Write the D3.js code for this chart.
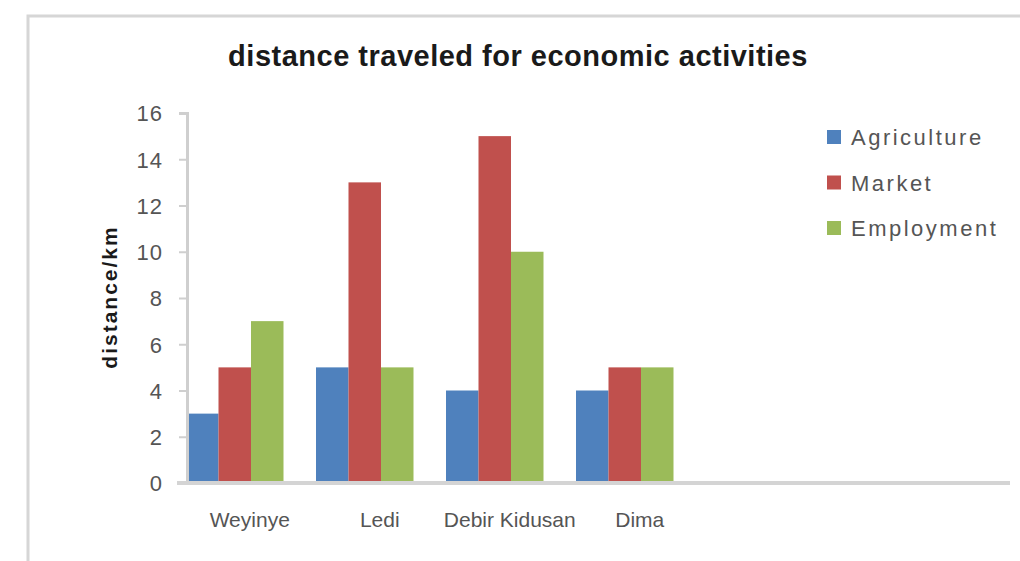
<!DOCTYPE html>
<meta charset="utf-8">
<style>
  body { margin: 0; background: white; }
  text { font-family: "Liberation Sans", Arial, sans-serif; }
  .title { font-size: 29px; font-weight: bold; fill: #1a1a1a; letter-spacing: 0.5px; }
  .ytitle { font-size: 21px; font-weight: bold; fill: #1a1a1a; letter-spacing: 2px; }
  .tick text { font-size: 22px; fill: #555; letter-spacing: 1px; }
  .cat { font-size: 21px; fill: #555; }
  .legend { font-size: 22px; fill: #555; letter-spacing: 2.5px; }
</style>
<body>
<script src="https://cdn.jsdelivr.net/npm/d3@7"></script>
<script>

// data
const places = ["Weyinye", "Ledi", "Debir Kidusan", "Dima"]
const activities = ["Agriculture", "Market", "Employment"]
const agriculture = [3, 5, 4, 4]
const market = [5, 13, 15, 5]
const employment = [7, 5, 10, 5]
const yTicks = [0, 2, 4, 6, 8, 10, 12, 14, 16]

const colors = ["#4f81bd", "#c0504d", "#9bbb59"]
const seriesValues = [agriculture, market, employment]

const W = 1020, H = 561
const svg = d3.select("body").append("svg")
  .attr("width", W)
  .attr("height", H)

// chart border
svg.append("path")
  .attr("d", `M28,${H} V16 H${W}`)
  .attr("fill", "none")
  .attr("stroke", "#d6d6d6")
  .attr("stroke-width", 3)

const plot = {left: 187, top: 113, bottom: 483}

const y = d3.scaleLinear()
  .domain([0, 16])
  .range([plot.bottom, plot.top])

const x0 = d3.scaleBand()
  .domain(places)
  .range([186, 673.5])
  .paddingInner(0.25)
  .paddingOuter(0)

const x1 = d3.scaleBand()
  .domain(activities)
  .range([0, x0.bandwidth()])

// title
svg.append("text")
  .attr("class", "title")
  .attr("x", 518)
  .attr("y", 66)
  .attr("text-anchor", "middle")
  .text("distance traveled for economic activities")

// y title
svg.append("text")
  .attr("class", "ytitle")
  .attr("transform", `translate(117, 297) rotate(-90)`)
  .attr("text-anchor", "middle")
  .text("distance/km")

// bars
const groups = svg.selectAll(".grp")
  .data(places)
  .enter().append("g")
    .attr("class", "grp")
    .attr("transform", d => `translate(${x0(d)},0)`)

groups.selectAll("rect")
  .data((d, i) => activities.map((a, k) => ({a: a, v: seriesValues[k][i], k: k})))
  .enter().append("rect")
    .attr("x", d => x1(d.a))
    .attr("width", x1.bandwidth())
    .attr("y", d => y(d.v))
    .attr("height", d => plot.bottom - y(d.v))
    .attr("fill", d => colors[d.k])

// y axis
const yAxis = svg.append("g")
  .attr("transform", `translate(${plot.left},0)`)
  .call(d3.axisLeft(y).tickValues(yTicks).tickSize(8).tickPadding(16))
yAxis.select(".domain").attr("stroke", "#cfcfcf").attr("stroke-width", 3)
yAxis.selectAll(".tick line").attr("stroke", "#cfcfcf").attr("stroke-width", 2)
yAxis.selectAll(".tick text").attr("dy", "0.36em")

// x axis line
svg.append("line")
  .attr("x1", 177).attr("x2", 1010)
  .attr("y1", plot.bottom).attr("y2", plot.bottom)
  .attr("stroke", "#d4d4d4")
  .attr("stroke-width", 4)

// category labels
svg.selectAll(".cat")
  .data(places)
  .enter().append("text")
    .attr("class", "cat")
    .attr("x", d => x0(d) + x0.bandwidth() / 2 + 15)
    .attr("y", 527)
    .attr("text-anchor", "middle")
    .text(d => d)

// legend
const legend = svg.selectAll(".leg")
  .data(activities)
  .enter().append("g")
    .attr("class", "leg")
    .attr("transform", (d, i) => `translate(827, ${137 + i * 45.5})`)

legend.append("rect")
  .attr("x", 0).attr("y", -7)
  .attr("width", 14).attr("height", 14)
  .attr("fill", (d, i) => colors[i])

legend.append("text")
  .attr("class", "legend")
  .attr("x", 24)
  .attr("y", 8)
  .text(d => d)

</script>
</body>
